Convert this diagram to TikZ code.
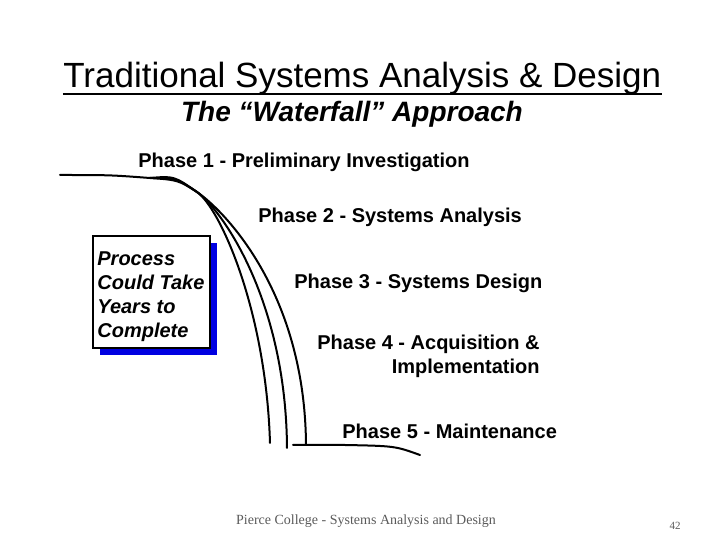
\documentclass[tikz,border=0pt]{standalone}
\usepackage{fontspec}
\setmainfont{Liberation Sans}
\newfontfamily\footfont{Liberation Serif}
\usetikzlibrary{shadows}
\definecolor{boxblue}{RGB}{0,0,225}
\definecolor{footgray}{RGB}{90,90,90}
\tikzset{
 phase/.style={anchor=base west, inner sep=0, font=\fontsize{10}{12}\selectfont\bfseries},
 fall/.style={black, line width=1pt, line cap=round},
}

\begin{document}
\begin{tikzpicture}[x=0.5pt,y=-0.5pt]
\useasboundingbox (0,0) rectangle (720,540);
\node[anchor=base west, inner sep=0, font=\fontsize{17.5}{20}\selectfont] (title) at (63,88) {Traditional Systems Analysis \& Design};
\draw[line width=1pt] ([yshift=-3pt]title.base west) -- ([yshift=-3pt]title.base east);
\node[anchor=base, inner sep=0, font=\fontsize{14}{16}\selectfont\bfseries\itshape] (subtitle) at (352,122) {The “Waterfall” Approach};

% the falls
\draw[fall] (60,175) .. controls (110,175) .. (150,178);
\draw[fall] (150,178) .. controls (178,180) .. (197,192) .. controls (220,208) and (266,310) .. (270,443);
\draw[fall] (150,178) .. controls (176,178) .. (197,192) .. controls (222,210) and (286,300) .. (287,448);
\draw[fall] (150,178) .. controls (174,176) .. (197,192) .. controls (222,209) and (305,290) .. (306,445);
\draw[fall] (293,445) -- (345,445) .. controls (395,446) .. (420,455);

\node[phase] (p1) at (138,168) {Phase 1 - Preliminary Investigation};
\node[phase] (p2) at (258,223) {Phase 2 - Systems Analysis};
\node[phase] (p3) at (294,289) {Phase 3 - Systems Design};
\node[phase, anchor=north east, align=right] (p4) at (540,334.7) {Phase 4 - Acquisition \&\\Implementation};
\node[phase] (p5) at (342,439) {Phase 5 - Maintenance};

\node[draw, line width=1pt, fill=white, general shadow={fill=boxblue, shadow xshift=3.5pt, shadow yshift=-3.5pt}, anchor=north west, minimum width=58.5pt, minimum height=56pt, inner sep=0] (note) at (92,235) {};
\node[phase, anchor=north west, align=left, font=\fontsize{10}{12}\selectfont\bfseries\itshape] (notetext) at (97,251.6) {Process\\Could Take\\Years to\\Complete};

\node[anchor=base, inner sep=0, text=footgray, font=\footfont\fontsize{7}{8}\selectfont] (footer) at (366,525) {Pierce College - Systems Analysis and Design};
\node[anchor=base, inner sep=0, text=footgray, font=\footfont\fontsize{5.5}{6}\selectfont] (page) at (675,530) {42};
\end{tikzpicture}
\end{document}
